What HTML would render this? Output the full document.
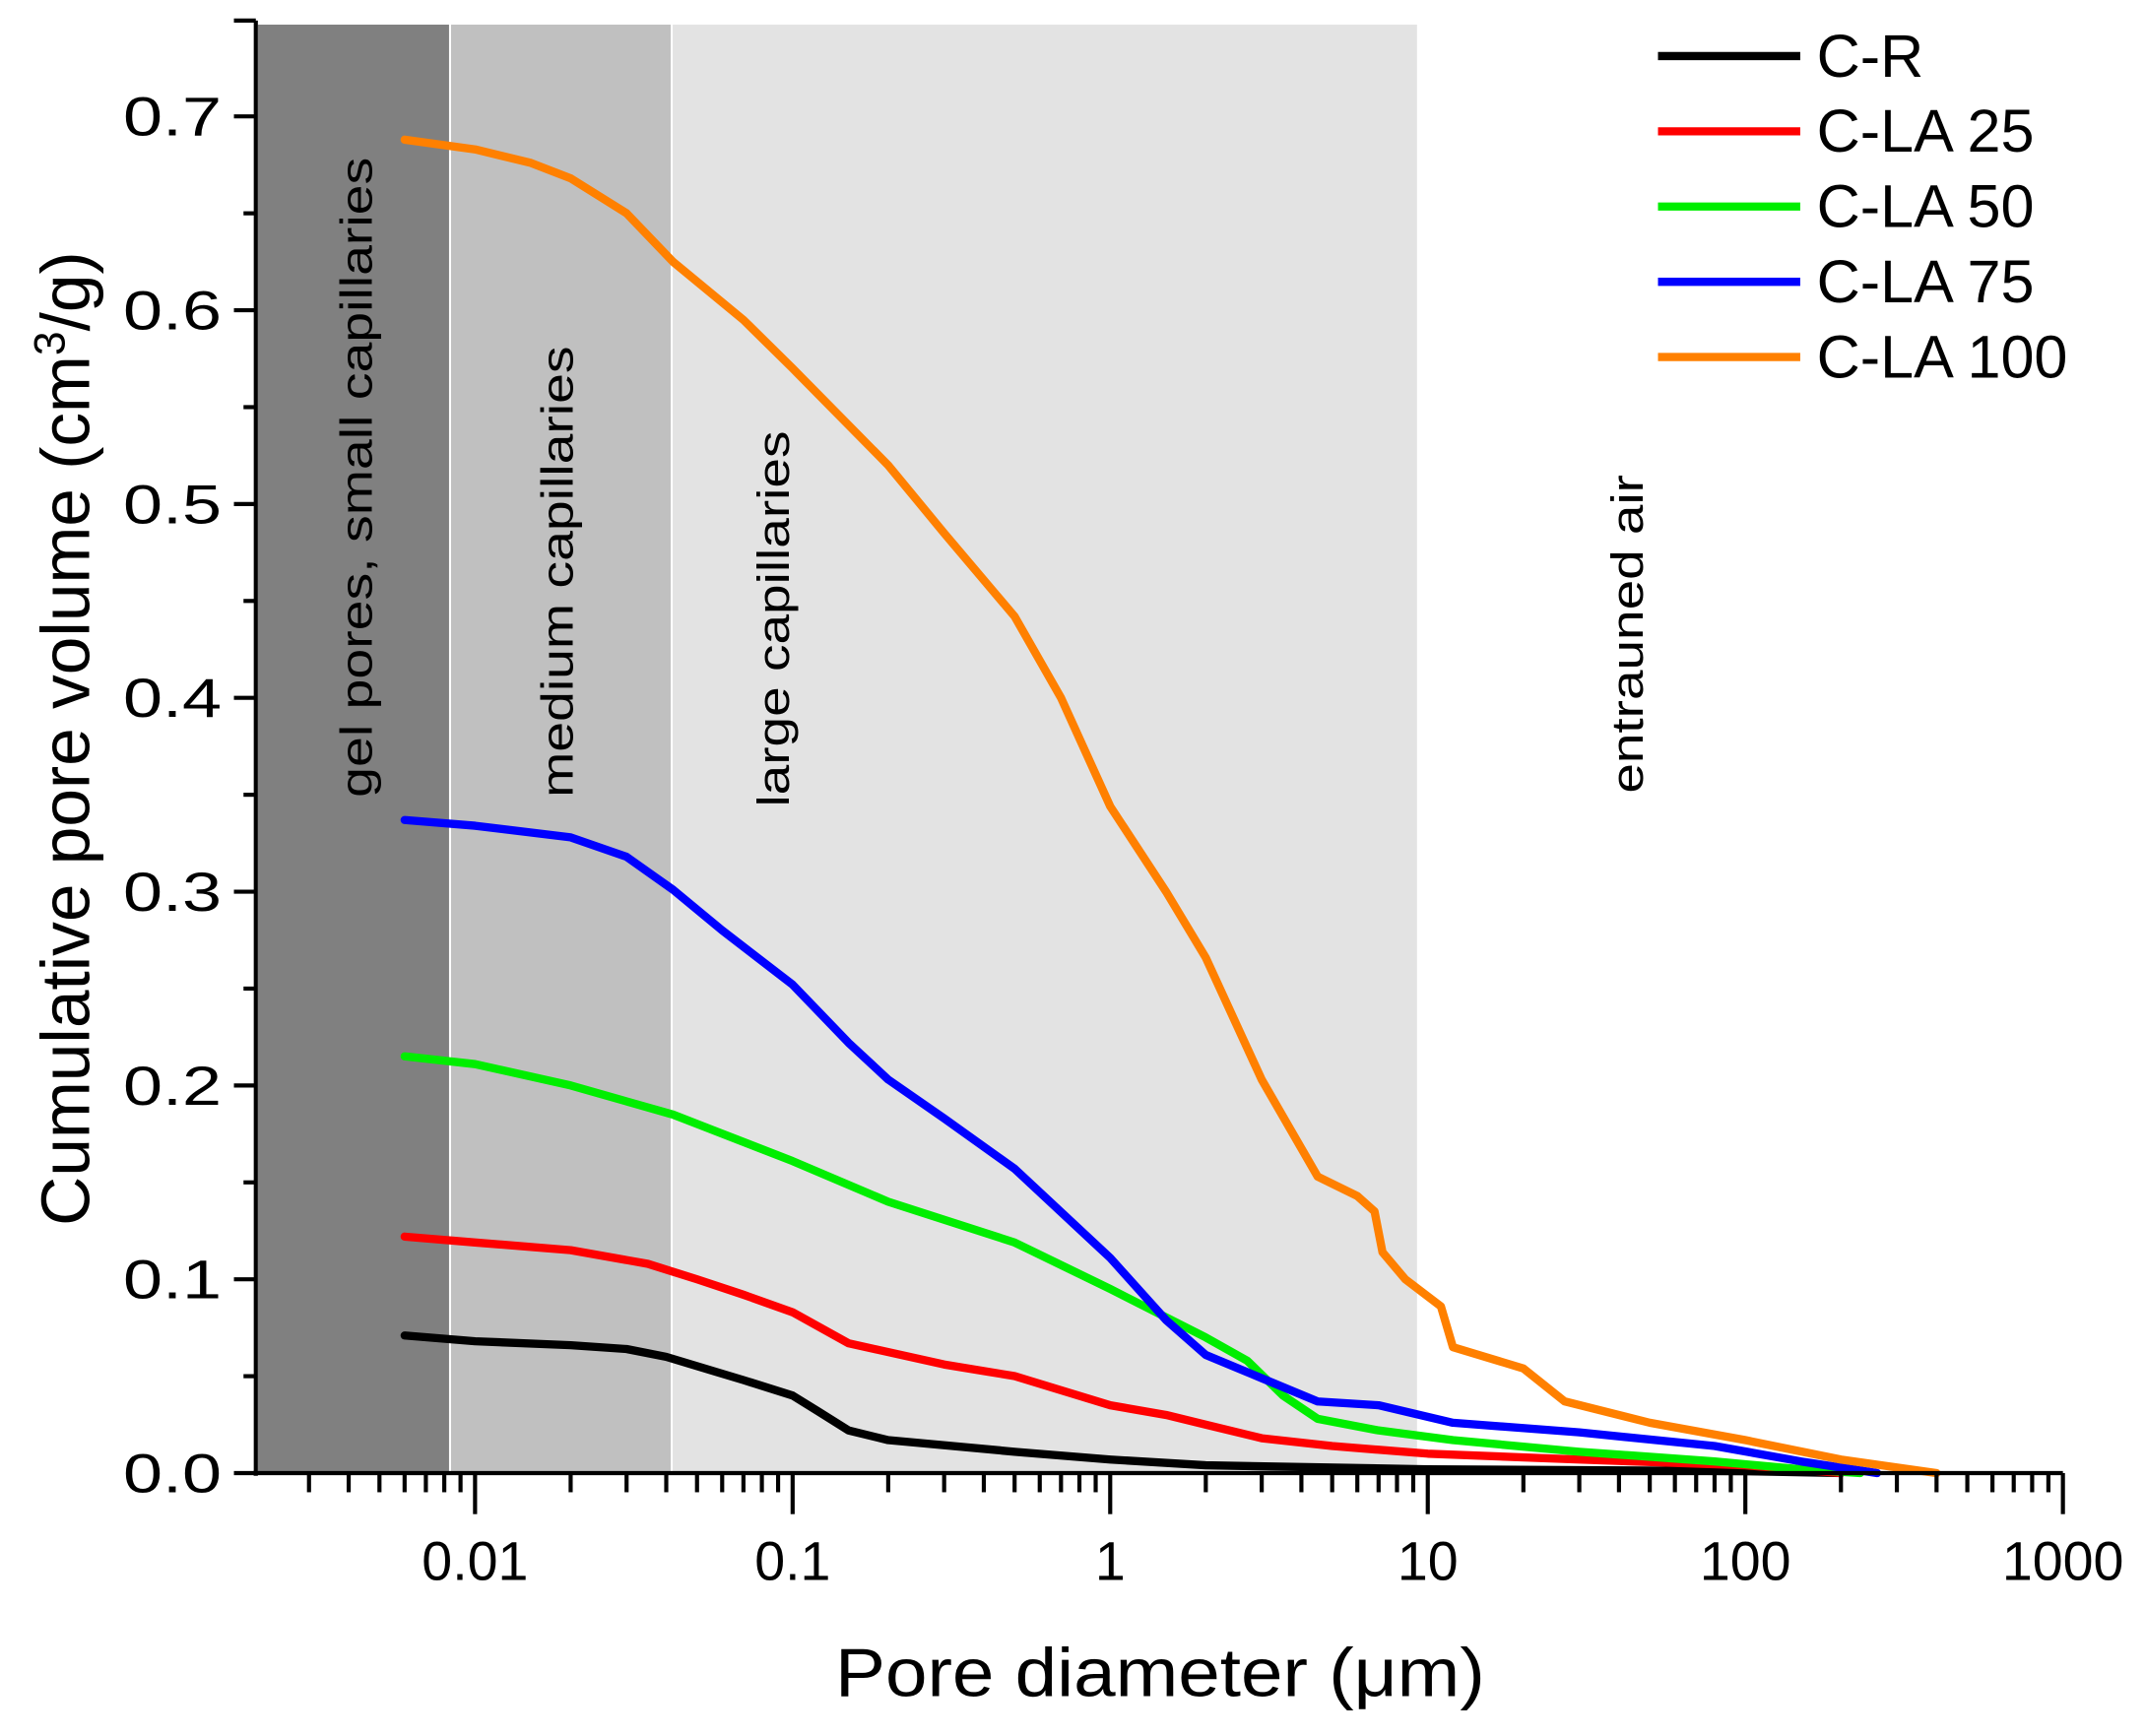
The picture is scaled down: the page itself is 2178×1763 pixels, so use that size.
<!DOCTYPE html>
<html><head><meta charset="utf-8"><style>html,body{margin:0;padding:0;background:#fff}svg{display:block;font-family:"Liberation Sans",Arial,sans-serif}</style></head>
<body>
<svg id="chart" width="2178" height="1763" viewBox="0 0 1568 1269.2" xmlns="http://www.w3.org/2000/svg"></svg>
<script>
const seriesNames = ["C-R","C-LA 25","C-LA 50","C-LA 75","C-LA 100"];
const seriesColors = ["#000000","#ff0000","#00ee00","#0000ff","#ff8000"];
const xCR = [0.006,0.01,0.02,0.03,0.04,0.07,0.1,0.12,0.15,0.2,0.5,1,2,10,100,200];
const yCR = [0.071,0.068,0.066,0.064,0.06,0.048,0.04,0.032,0.022,0.017,0.011,0.007,0.004,0.002,0.001,0];
const xLA25 = [0.006,0.01,0.02,0.035,0.05,0.07,0.1,0.15,0.3,0.5,1,1.5,2,3,5,10,30,100,200];
const yLA25 = [0.122,0.119,0.115,0.108,0.1,0.092,0.083,0.067,0.056,0.05,0.035,0.03,0.025,0.018,0.014,0.01,0.007,0.004,0];
const xLA50 = [0.006,0.01,0.02,0.042,0.1,0.2,0.5,1,2,2.7,3.5,4.5,7,12,30,80,150,230];
const yLA50 = [0.215,0.211,0.2,0.185,0.161,0.14,0.119,0.095,0.07,0.058,0.04,0.028,0.022,0.017,0.011,0.006,0.002,0];
const xLA75 = [0.006,0.01,0.02,0.03,0.042,0.06,0.1,0.15,0.2,0.3,0.5,1,1.5,2,3,4.5,7,12,30,80,150,260];
const yLA75 = [0.337,0.334,0.328,0.318,0.301,0.28,0.252,0.222,0.203,0.183,0.157,0.111,0.079,0.061,0.049,0.037,0.035,0.026,0.021,0.014,0.006,0];
const xLA100 = [0.006,0.01,0.015,0.02,0.03,0.042,0.07,0.1,0.2,0.3,0.5,0.7,1,1.5,2,3,4.5,6,6.8,7.2,8.5,11,12,20,27,50,100,200,400];
const yLA100 = [0.688,0.683,0.676,0.668,0.65,0.625,0.595,0.57,0.52,0.485,0.442,0.4,0.344,0.3,0.266,0.203,0.153,0.143,0.135,0.114,0.1,0.086,0.065,0.054,0.037,0.026,0.017,0.007,0];
const yTicks = [0,0.1,0.2,0.3,0.4,0.5,0.6,0.7];
const yTickLabels = ["0.0","0.1","0.2","0.3","0.4","0.5","0.6","0.7"];
const xTicks = [0.01,0.1,1,10,100,1000];
const xTickLabels = ["0.01","0.1","1","10","100","1000"];
const bandEdges = [0.00204,0.00828,0.0413,9.25];
const bandColors = ["#808080","#c0c0c0","#e3e3e3"];
const bandLabels = ["gel pores, small capillaries","medium capillaries","large capillaries","entrauned air"];

const NS="http://www.w3.org/2000/svg", svg=document.getElementById('chart');
const X0=187,X1=1508,Y0=1077,TOP=15;
const LMIN=Math.log10(0.00204), LMAX=3;
function sx(v){return X0+(Math.log10(v)-LMIN)/(LMAX-LMIN)*(X1-X0);}
function sy(v){return Y0-v*1417;}
function mk(t,a,p){const e=document.createElementNS(NS,t);for(const k in a)e.setAttribute(k,a[k]);(p||svg).appendChild(e);return e;}

for(let i=0;i<3;i++){
  const r=mk('rect',{x:sx(bandEdges[i])+1.5,y:18,width:sx(bandEdges[i+1])-sx(bandEdges[i])-1.5,height:Y0-18,fill:bandColors[i]});
  
  
}
const labX=[263,410,568,1192], labY=[583,583,590,580];
bandLabels.forEach((s,i)=>{
  const t=mk('text',{x:labX[i],y:labY[i],transform:`rotate(-90 ${labX[i]} ${labY[i]})`,'font-size':33,fill:'#000','dominant-baseline':'middle','textLength':[468,330,275,233][i],'lengthAdjust':'spacingAndGlyphs'});
  t.textContent=s;
  
  
});

const xs=[xCR,xLA25,xLA50,xLA75,xLA100], ys=[yCR,yLA25,yLA50,yLA75,yLA100];
for(let s=0;s<5;s++){
  const d=xs[s].map((v,i)=>(i?'L':'M')+sx(v).toFixed(1)+','+sy(ys[s][i]).toFixed(1)).join('');
  const p=mk('path',{d:d,fill:'none',stroke:seriesColors[s],'stroke-width':6,'stroke-linejoin':'round','stroke-linecap':'round'});
  
  
}

const ax=mk('g',{stroke:'#000','stroke-width':3});


mk('line',{x1:X0,y1:TOP,x2:X0,y2:Y0+2},ax);
mk('line',{x1:X0-2,y1:Y0,x2:X1,y2:Y0},ax);
for(let v=0;v<=0.75;v+=0.05){const y=sy(v);const maj=Math.abs(v*10-Math.round(v*10))<1e-6;mk('line',{x1:X0-(maj?16:9),y1:y,x2:X0,y2:y},ax);}
mk('line',{x1:X0-16,y1:TOP,x2:X0,y2:TOP},ax);
yTicks.forEach((v,i)=>{
  const t=mk('text',{x:162,y:sy(v)+14,'font-size':40,'text-anchor':'end','textLength':72,'lengthAdjust':'spacingAndGlyphs'});
  t.textContent=yTickLabels[i];
  
  
});
for(let e=-3;e<3;e++)for(let m=1;m<10;m++){const v=m*Math.pow(10,e);if(v<0.00204)continue;const x=sx(v);mk('line',{x1:x,y1:Y0,x2:x,y2:Y0+(m==1?30:14)},ax);}
mk('line',{x1:X1,y1:Y0,x2:X1,y2:Y0+30},ax);
xTicks.forEach((v,i)=>{
  const t=mk('text',{x:sx(v),y:1155,'font-size':40,'text-anchor':'middle'});
  t.textContent=xTickLabels[i];
  
  
});
const xt=mk('text',{x:848,y:1240,'font-size':50,'text-anchor':'middle','textLength':475,'lengthAdjust':'spacingAndGlyphs'});
xt.textContent='Pore diameter (\u03bcm)';


const yt=mk('text',{x:65,y:540,'font-size':50,'text-anchor':'middle',transform:'rotate(-90 65 540)'});
yt.innerHTML='Cumulative pore volume (cm<tspan dy="-18" font-size="32">3</tspan><tspan dy="18">/g)</tspan>';



seriesNames.forEach((n,i)=>{
  const y=41+i*55;
  const g=mk('g',{});
  
  
  mk('line',{x1:1212,y1:y,x2:1316,y2:y,stroke:seriesColors[i],'stroke-width':6},g);
  const t=mk('text',{x:1328,y:y+15,'font-size':44},g);
  t.textContent=n;
});
</script>
</body></html>
